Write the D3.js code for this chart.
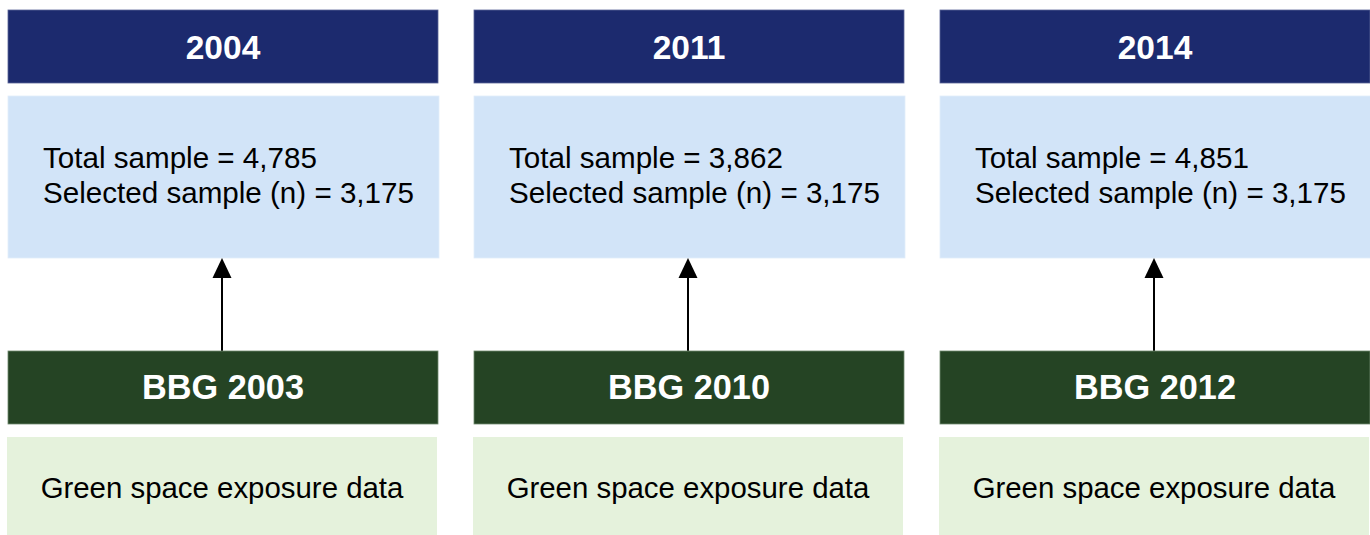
<html>
<head>
<script src="https://cdnjs.cloudflare.com/ajax/libs/d3/7.8.5/d3.min.js"></script>
<style>
  body { margin: 0; background: #fff; }
  text { font-family: "Liberation Sans", Arial, sans-serif; }
</style>
</head>
<body>
<script>
// survey waves
var years = ["2004", "2011", "2014"];
var sources = ["BBG 2003", "BBG 2010", "BBG 2012"];
var totalSample = ["4,785", "3,862", "4,851"];
var selectedSample = ["3,175", "3,175", "3,175"];
var exposureLabel = ["Green space exposure data", "Green space exposure data", "Green space exposure data"];

var width = 1370, height = 535;

var svg = d3.select("body").append("svg")
  .attr("width", width)
  .attr("height", height);

var x = d3.scaleBand()
  .domain(years)
  .range([8, 1370])
  .paddingInner(36 / 466)
  .paddingOuter(0);

var bw = x.bandwidth();

var rows = {
  year:  {y: 10,  h: 73},
  info:  {y: 96,  h: 162},
  src:   {y: 351, h: 73},
  green: {y: 437, h: 98}
};

var data = years.map(function(d, i) {
  return {year: d, src: sources[i], total: totalSample[i], sel: selectedSample[i], green: exposureLabel[i]};
});

var col = svg.selectAll("g.col")
  .data(data)
  .enter().append("g")
  .attr("class", "col")
  .attr("transform", function(d) { return "translate(" + x(d.year) + ",0)"; });

// year header
col.append("rect")
  .attr("y", rows.year.y).attr("width", bw).attr("height", rows.year.h)
  .attr("fill", "#1c2a6e").attr("stroke", "#5a6497").attr("stroke-width", 0.8);
col.append("text")
  .attr("x", bw / 2).attr("y", rows.year.y + 49)
  .attr("text-anchor", "middle")
  .attr("fill", "#fff").attr("font-weight", "bold").attr("font-size", 33.5)
  .text(function(d) { return d.year; });

// sample box
col.append("rect")
  .attr("y", rows.info.y).attr("width", bw + 1).attr("height", rows.info.h)
  .attr("fill", "#d2e4f8").attr("stroke", "#e2edf9").attr("stroke-width", 0.8);
col.append("text")
  .attr("x", 35).attr("y", 168)
  .attr("fill", "#000").attr("font-size", 29.6)
  .text(function(d) { return "Total sample = " + d.total; });
col.append("text")
  .attr("x", 35).attr("y", 203)
  .attr("fill", "#000").attr("font-size", 29.6)
  .text(function(d) { return "Selected sample (n) = " + d.sel; });

// arrow from source to sample
var ax = bw / 2 - 1;
col.append("line")
  .attr("x1", ax).attr("x2", ax)
  .attr("y1", rows.src.y).attr("y2", 276)
  .attr("stroke", "#000").attr("stroke-width", 2);
col.append("path")
  .attr("d", "M" + ax + "," + (rows.info.y + rows.info.h) + "L" + (ax + 9.5) + ",278L" + (ax - 9.5) + ",278Z")
  .attr("fill", "#000");

// source box
col.append("rect")
  .attr("y", rows.src.y).attr("width", bw).attr("height", rows.src.h)
  .attr("fill", "#254424").attr("stroke", "#6f8a6e").attr("stroke-width", 0.8);
col.append("text")
  .attr("x", bw / 2).attr("y", rows.src.y + 48)
  .attr("text-anchor", "middle")
  .attr("fill", "#fff").attr("font-weight", "bold").attr("font-size", 34.3)
  .text(function(d) { return d.src; });

// exposure box
col.append("rect")
  .attr("x", -1).attr("y", rows.green.y).attr("width", bw).attr("height", rows.green.h)
  .attr("fill", "#e5f2dc");
col.append("text")
  .attr("x", bw / 2 - 1).attr("y", 498)
  .attr("text-anchor", "middle")
  .attr("fill", "#000").attr("font-size", 29.4)
  .text(function(d) { return d.green; });
</script>
</body>
</html>
